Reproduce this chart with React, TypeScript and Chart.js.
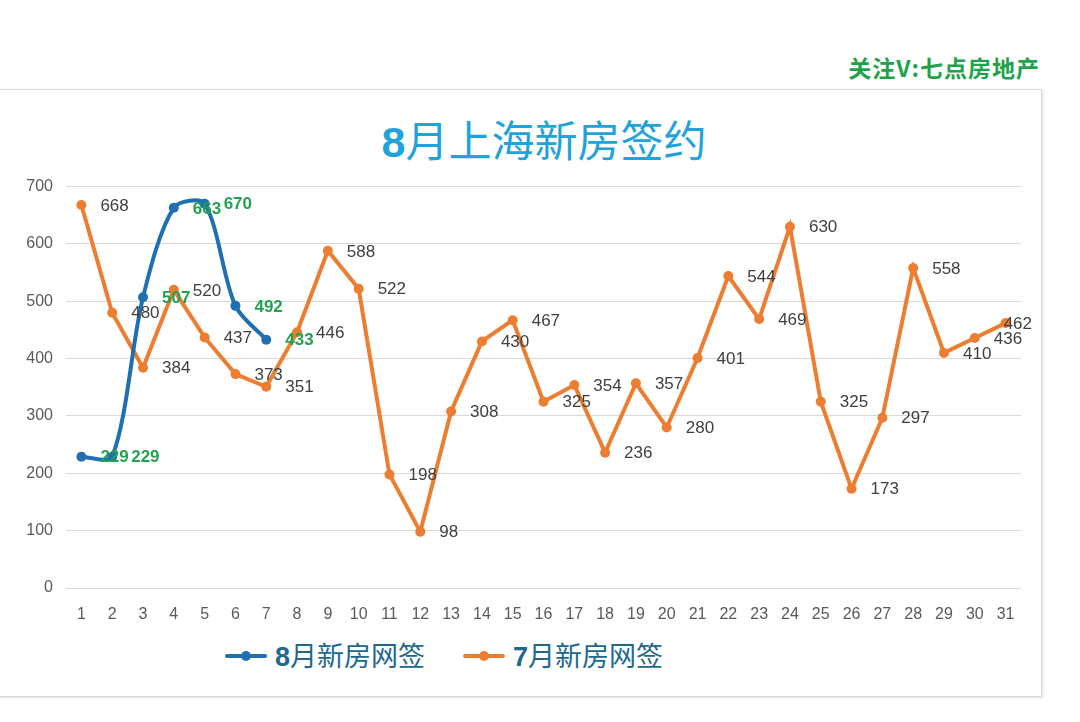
import React, { useEffect, useRef } from "react";
import { Chart, registerables } from "chart.js";

Chart.register(...registerables);

const days: string[] = [
  "1", "2", "3", "4", "5", "6", "7", "8", "9", "10", "11", "12", "13", "14", "15", "16",
  "17", "18", "19", "20", "21", "22", "23", "24", "25", "26", "27", "28", "29", "30", "31",
];

const augustValues: number[] = [229, 229, 507, 663, 670, 492, 433];

const julyValues: number[] = [
  668, 480, 384, 520, 437, 373, 351, 446, 588, 522, 198, 98, 308, 430, 467, 325,
  354, 236, 357, 280, 401, 544, 469, 630, 325, 173, 297, 558, 410, 436, 462,
];

const augustName = "8月新房网签";
const julyName = "7月新房网签";
const titleText = "8月上海新房签约";
const watermarkText = "关注V:七点房地产";

const BLUE = "#1f6fb2";
const ORANGE = "#ed7d31";
const GREEN = "#22a150";

const labelPlugin = {
  id: "pointLabels",
  afterDatasetsDraw(chart: any) {
    const ctx = chart.ctx;
    const order = [1, 0];
    ctx.save();
    ctx.textBaseline = "middle";
    ctx.textAlign = "left";
    for (const i of order) {
      const ds = chart.data.datasets[i];
      const meta = chart.getDatasetMeta(i);
      if (i === 0) {
        ctx.font = "bold 17px 'Liberation Sans', Arial, sans-serif";
        ctx.fillStyle = GREEN;
      } else {
        ctx.font = "17px 'Liberation Sans', Arial, sans-serif";
        ctx.fillStyle = "#404040";
      }
      meta.data.forEach((pt: any, j: number) => {
        const text = String(ds.data[j]);
        const w = ctx.measureText(text).width;
        let x = pt.x + 19;
        const maxRight = chart.width - 8;
        if (x + w > maxRight) x = maxRight - w;
        ctx.fillText(text, x, pt.y + 1);
      });
    }
    ctx.restore();
  },
};

function LegendItem({ color, num, rest, left }: { color: string; num: string; rest: string; left: number }) {
  return (
    <div
      style={{
        position: "absolute",
        left,
        top: 640,
        display: "flex",
        alignItems: "center",
        height: 32,
        color: "#21688f",
        fontSize: 27,
        lineHeight: "32px",
        fontFamily: "'Noto Sans CJK SC', 'Noto Sans', sans-serif",
        whiteSpace: "nowrap",
      }}
    >
      <div style={{ position: "relative", width: 42, height: 32, marginRight: 8 }}>
        <div
          style={{
            position: "absolute",
            left: 0,
            top: 14,
            width: 42,
            height: 4,
            background: color,
            borderRadius: 2,
          }}
        />
        <div
          style={{
            position: "absolute",
            left: 16,
            top: 11,
            width: 10,
            height: 10,
            borderRadius: 5,
            background: color,
          }}
        />
      </div>
      <span>
        <b style={{ fontFamily: "'Liberation Sans', Arial, sans-serif" }}>{num}</b>
        {rest}
      </span>
    </div>
  );
}

export default function App() {
  const canvasRef = useRef<HTMLCanvasElement | null>(null);

  useEffect(() => {
    if (!canvasRef.current) return;
    const chart = new Chart(canvasRef.current, {
      type: "line",
      data: {
        labels: days,
        datasets: [
          {
            label: augustName,
            data: augustValues,
            borderColor: BLUE,
            backgroundColor: BLUE,
            borderWidth: 4,
            pointRadius: 5,
            pointBorderWidth: 0,
            pointBackgroundColor: BLUE,
            tension: 0.3,
            fill: false,
          },
          {
            label: julyName,
            data: julyValues,
            borderColor: ORANGE,
            backgroundColor: ORANGE,
            borderWidth: 4,
            pointRadius: 5,
            pointBorderWidth: 0,
            pointBackgroundColor: ORANGE,
            tension: 0,
            fill: false,
          },
        ],
      },
      options: {
        animation: false,
        responsive: true,
        maintainAspectRatio: false,
        layout: { padding: { left: 0, right: 19, top: 16, bottom: 0 } },
        plugins: {
          legend: { display: false },
          title: { display: false },
          tooltip: { enabled: false },
        },
        scales: {
          x: {
            offset: true,
            grid: { display: false },
            border: { display: false },
            ticks: {
              color: "#595959",
              font: { size: 16, family: "'Liberation Sans', Arial, sans-serif" },
              padding: 9,
              maxRotation: 0,
              autoSkip: false,
            },
            afterFit: (scale: any) => {
              scale.height = 40;
            },
          },
          y: {
            min: 0,
            max: 700,
            grid: { color: "#d9d9d9", lineWidth: 1, drawTicks: false },
            border: { display: false },
            ticks: {
              stepSize: 100,
              color: "#595959",
              font: { size: 16, family: "'Liberation Sans', Arial, sans-serif" },
              padding: 13,
            },
            afterFit: (scale: any) => {
              scale.width = 66;
            },
          },
        },
      },
      plugins: [labelPlugin],
    });
    return () => chart.destroy();
  }, []);

  return (
    <div
      style={{
        position: "absolute",
        left: 0,
        top: 0,
        width: 1080,
        height: 722,
        background: "#ffffff",
        overflow: "hidden",
        fontFamily: "'Noto Sans CJK SC', 'Noto Sans', sans-serif",
      }}
    >
      <div
        style={{
          position: "absolute",
          right: 40,
          top: 53,
          color: "#1fa24b",
          fontWeight: 700,
          fontSize: 23,
          letterSpacing: 1,
          lineHeight: "28px",
          whiteSpace: "nowrap",
        }}
      >
        {watermarkText}
      </div>
      <div
        style={{
          position: "absolute",
          left: -4,
          top: 89,
          width: 1044,
          height: 606,
          border: "1px solid #d9d9d9",
          boxShadow: "1px 1px 3px rgba(0,0,0,0.12)",
          background: "#ffffff",
        }}
      />
      <div
        style={{
          position: "absolute",
          left: 0,
          top: 115,
          width: 1088,
          textAlign: "center",
          color: "#1fa3da",
          fontSize: 43,
          lineHeight: "47px",
          whiteSpace: "nowrap",
        }}
      >
        <b style={{ fontFamily: "'Liberation Sans', Arial, sans-serif" }}>8</b>
        {titleText.slice(1)}
      </div>
      <div style={{ position: "absolute", left: 0, top: 164, width: 1040, height: 464 }}>
        <canvas ref={canvasRef} />
      </div>
      <LegendItem color={BLUE} num="8" rest={augustName.slice(1)} left={225} />
      <LegendItem color={ORANGE} num="7" rest={julyName.slice(1)} left={463} />
    </div>
  );
}
